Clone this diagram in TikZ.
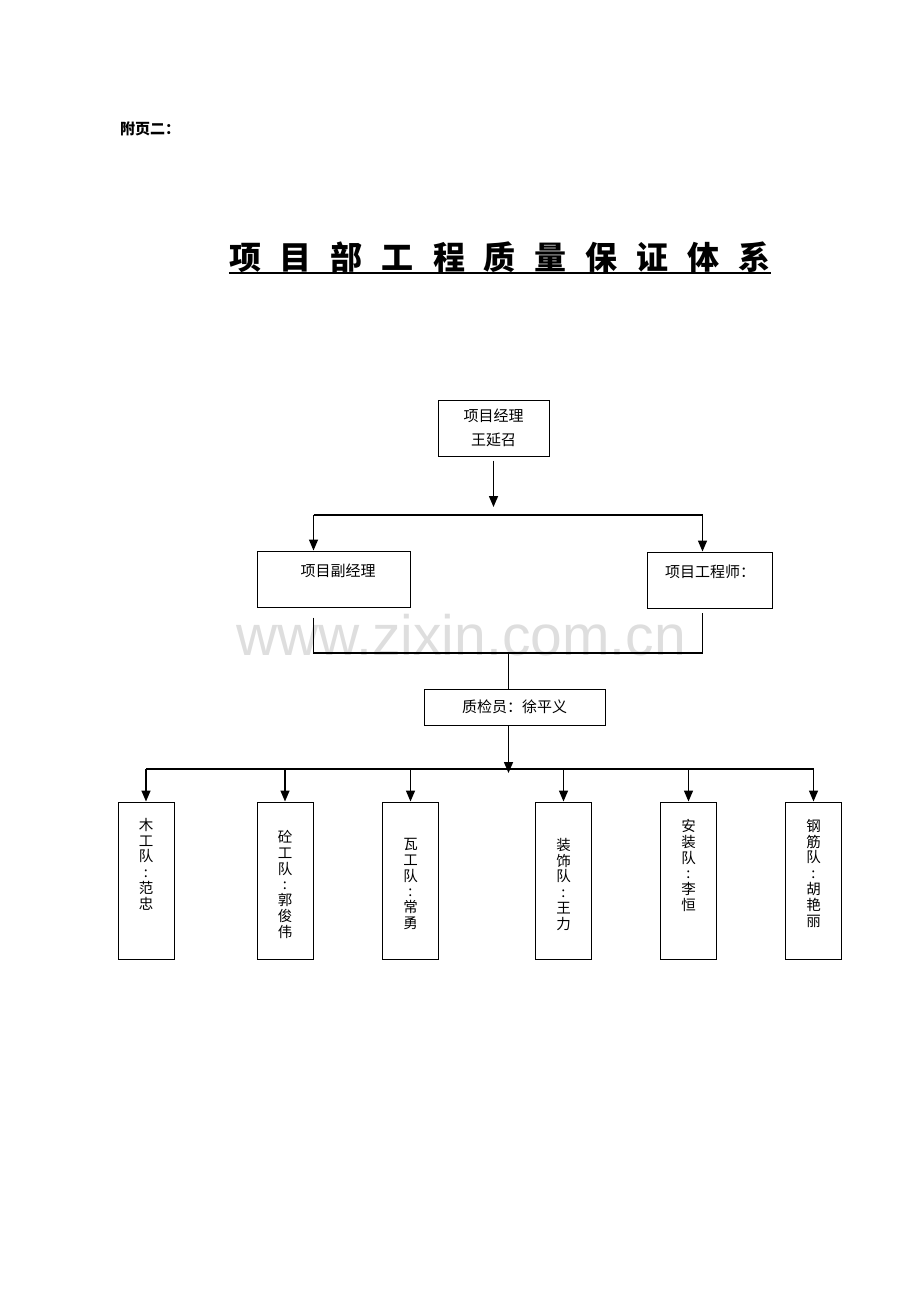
\documentclass[tikz,border=0pt]{standalone}
\usepackage{fontspec}
\setmainfont{Noto Sans CJK SC}
\newfontfamily\wmfont{Liberation Sans}
\usetikzlibrary{arrows.meta,calc}

\tikzset{
  box/.style={draw, line width=1pt, inner sep=0pt},
  pfeil/.style={line width=1.5pt, -{Triangle[length=11pt,width=9pt]}},
  linie/.style={line width=1.3pt},
  schrift/.style={font=\fontsize{15}{24}\selectfont},
  spalte/.style={font=\fontsize{14.5}{15.8}\selectfont, align=center, anchor=north, inner sep=0pt},
}

\begin{document}
\begin{tikzpicture}[x=1pt, y=-1pt]
  % Rahmen
  \useasboundingbox (0,0) rectangle (920,1302);
  % Wasserzeichen
  \node[font=\wmfont\fontsize{57}{60}\selectfont, text=black!13, anchor=base] (wm) at (461,655) {www.zixin.com.cn};
  % Kopf und Titel
  \node[font=\bfseries\fontsize{15}{18}\selectfont, anchor=base west, inner sep=0pt] (kopf) at (120,134) {附页二：};
  \def\abst{\hspace{19pt}}
  \node[font=\bfseries\fontsize{32}{36}\selectfont, anchor=base, inner sep=0pt] (titel) at (500,269)
    {项\abst 目\abst 部\abst 工\abst 程\abst 质\abst 量\abst 保\abst 证\abst 体\abst 系};
  \draw[line width=1.8pt] ($(titel.base west)+(0,4)$) -- ($(titel.base east)+(0,4)$);
  % Leitung
  \node[box, schrift, minimum width=111pt, minimum height=56pt, align=center] (pm) at (493.5,428) {项目经理\\王延召};
  \node[box, minimum width=153pt, minimum height=56pt] (dpm) at (333.5,579) {};
  \node[schrift] (dpmt) at (338,570.5) {项目副经理};
  \node[box, minimum width=125pt, minimum height=56pt] (ing) at (709.5,580) {};
  \node[schrift] (ingt) at (710,571.5) {项目工程师：};
  \node[box, schrift, minimum width=181pt, minimum height=36pt] (qc) at (514.5,707) {质检员：徐平义};
  % Verbindungspunkte
  \coordinate (ol) at (313.5,515);
  \coordinate (or) at (702.5,515);
  \coordinate (ml) at (313.5,653);
  \coordinate (mm) at (508.5,653);
  \coordinate (mr) at (702.5,653);
  \coordinate (ul) at (146,769);
  \coordinate (um) at (508.5,773);
  \coordinate (ur) at (814,769);
  % Pfeile oben
  \draw[pfeil, shorten <=4pt] (pm.south) -- ($(pm.south |- ol)+(0,-8)$);
  \draw[linie] (ol) -- (or);
  \draw[pfeil] (ol) -- (ol |- dpm.north);
  \draw[pfeil] (or) -- (or |- ing.north);
  % Zusammenfuehrung
  \draw[linie, shorten <=10pt, shorten >=4pt] (ml |- dpm.south) -- (ml) -- (mr) -- (mr |- ing.south);
  \draw[linie] (mm) -- (mm |- qc.north);
  \draw[pfeil] (mm |- qc.south) -- (um);
  \draw[linie] (ul) -- (ur);
  % Arbeitsgruppen
  \foreach \name/\x/\oben/\txt in {
      mu/146/818/{木\\工\\队\\:\\范\\忠},
      tong/285/830/{砼\\工\\队\\:\\郭\\俊\\伟},
      wa/410.5/838/{瓦\\工\\队\\:\\常\\勇},
      zs/563.5/838/{装\\饰\\队\\:\\王\\力},
      az/688.5/819/{安\\装\\队\\:\\李\\恒},
      gj/813.5/819/{钢\\筋\\队\\:\\胡\\艳\\丽}} {
    \node[box, minimum width=56pt, minimum height=157pt] (\name) at (\x,880.5) {};
    \node[spalte] (\name t) at (\x,\oben) {\txt};
    \draw[pfeil] (\name |- ul) -- (\name.north);
  }
\end{tikzpicture}
\end{document}
